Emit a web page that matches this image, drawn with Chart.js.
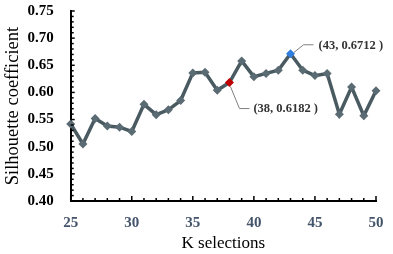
<!DOCTYPE html>
<html>
<head>
<meta charset="utf-8">
<script src="https://cdn.jsdelivr.net/npm/chart.js@4.4.1/dist/chart.umd.min.js"></script>
<style>
  html, body { margin: 0; padding: 0; background: #ffffff; }
  #wrap { width: 393px; height: 254px; position: relative; }
</style>
</head>
<body>
<div id="wrap"><canvas id="c" width="393" height="254"></canvas></div>
<script>
// ---- Data ----
const kValues = [25, 26, 27, 28, 29, 30, 31, 32, 33, 34, 35, 36, 37, 38, 39, 40, 41, 42, 43, 44, 45, 46, 47, 48, 49, 50];
const silhouette = [0.542, 0.505, 0.552, 0.538, 0.536, 0.528, 0.578, 0.559, 0.568, 0.585, 0.636, 0.637, 0.604, 0.6182, 0.658, 0.629, 0.635, 0.641, 0.6712, 0.641, 0.631, 0.635, 0.560, 0.610, 0.557, 0.603];
const highlightK = [38, 43];
const highlightLabels = ['(38, 0.6182 )', '(43, 0.6712 )'];
const xTickLabels = [25, 30, 35, 40, 45, 50];
const yTickLabels = [0.40, 0.45, 0.50, 0.55, 0.60, 0.65, 0.70, 0.75];

const points = kValues.map((k, i) => ({ x: k, y: silhouette[i] }));
const baseColor = '#5a6b73';
const pointColors = kValues.map(k => k === 38 ? '#c00000' : (k === 43 ? '#2f7fe0' : baseColor));

const tickPlugin = {
  id: 'innerTicks',
  afterDraw(chart) {
    const ctx = chart.ctx;
    const xs = chart.scales.x, ys = chart.scales.y;
    const area = chart.chartArea;
    ctx.save();
    ctx.strokeStyle = '#000';
    ctx.lineWidth = 1.5;
    for (let k = xs.min; k <= xs.max; k++) {
      const px = xs.getPixelForValue(k);
      const len = (k % 5 === 0) ? 5 : 3;
      ctx.beginPath();
      ctx.moveTo(px, area.bottom);
      ctx.lineTo(px, area.bottom - len);
      ctx.stroke();
    }
    for (let j = 0; j <= 35; j++) {
      const v = 0.40 + j * 0.01;
      const py = ys.getPixelForValue(v);
      const len = (j % 5 === 0) ? 4 : 3;
      ctx.beginPath();
      ctx.moveTo(area.left, py);
      ctx.lineTo(area.left + len, py);
      ctx.stroke();
    }
    ctx.strokeStyle = '#7f7f7f';
    ctx.lineWidth = 1;
    ctx.fillStyle = '#333333';
    ctx.font = 'bold 12.5px "Liberation Serif", "Times New Roman", serif';
    ctx.textBaseline = 'middle';
    ctx.textAlign = 'left';
    highlightK.forEach((k, n) => {
      const i = kValues.indexOf(k);
      const px = xs.getPixelForValue(k);
      const py = ys.getPixelForValue(silhouette[i]);
      ctx.beginPath();
      if (n === 0) {
        ctx.moveTo(px + 1, py + 4);
        ctx.lineTo(px + 10, py + 26);
        ctx.lineTo(px + 20, py + 26);
        ctx.stroke();
        ctx.fillText(highlightLabels[n], px + 24, py + 26);
      } else {
        ctx.moveTo(px + 3, py - 1);
        ctx.lineTo(px + 13, py - 9);
        ctx.lineTo(px + 23, py - 9);
        ctx.stroke();
        ctx.fillText(highlightLabels[n], px + 28, py - 8);
      }
    });
    ctx.restore();
  }
};

new Chart(document.getElementById('c'), {
  type: 'line',
  data: {
    datasets: [{
      data: points,
      borderColor: '#4a5a61',
      borderWidth: 3.5,
      pointStyle: 'rectRot',
      pointRadius: 4.5,
      pointBackgroundColor: pointColors,
      pointBorderColor: pointColors,
      pointBorderWidth: 0,
      tension: 0,
      fill: false,
      clip: false
    }]
  },
  options: {
    responsive: false,
    animation: false,
    events: [],
    layout: { padding: { left: 0, right: 17, top: 11, bottom: 0 } },
    plugins: { legend: { display: false }, tooltip: { enabled: false } },
    scales: {
      x: {
        type: 'linear',
        min: 25, max: 50,
        afterFit: s => { s.height = 53; s.paddingLeft = 0; s.paddingRight = 0; },
        afterBuildTicks: s => { s.ticks = xTickLabels.map(v => ({ value: v })); },
        grid: { display: false, drawTicks: false, tickLength: 0 },
        border: { display: true, color: '#000', width: 2 },
        ticks: {
          padding: 13,
          color: '#44546a',
          font: { family: '"Liberation Serif", "Times New Roman", serif', size: 15, weight: 'bold' }
        },
        title: {
          display: true, text: 'K selections', color: '#000',
          padding: 0,
          font: { family: '"Liberation Serif", "Times New Roman", serif', size: 17 }
        }
      },
      y: {
        type: 'linear',
        min: 0.40, max: 0.75,
        afterFit: s => { s.width = 70.7; s.paddingTop = 0; s.paddingBottom = 0; },
        afterBuildTicks: s => { s.ticks = yTickLabels.map(v => ({ value: v })); },
        grid: { display: false, drawTicks: false, tickLength: 0 },
        border: { display: true, color: '#000', width: 2 },
        ticks: {
          padding: 17,
          color: '#000',
          callback: v => Number(v).toFixed(2),
          font: { family: '"Liberation Serif", "Times New Roman", serif', size: 15, weight: 'bold' }
        },
        title: {
          display: true, text: 'Silhouette coefficient', color: '#000',
          padding: { top: 2, bottom: 0 },
          font: { family: '"Liberation Serif", "Times New Roman", serif', size: 18.5 }
        }
      }
    }
  },
  plugins: [tickPlugin]
});
</script>
</body>
</html>
